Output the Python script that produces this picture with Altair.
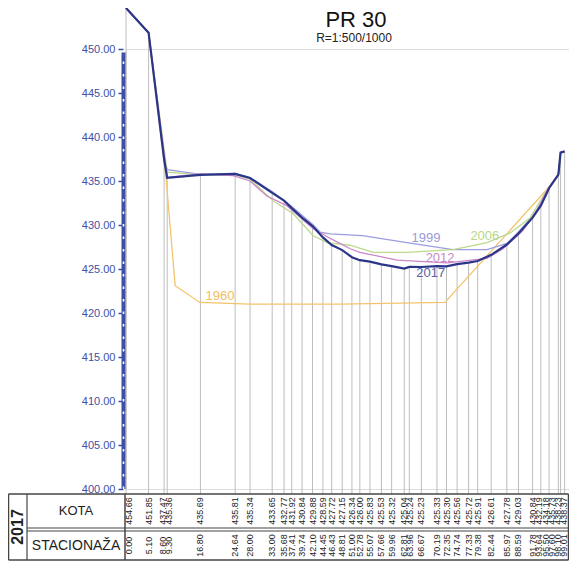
import altair as alt
import pandas as pd

# ---- 2017 survey (table values) ----
stations = [0.00, 5.10, 8.60, 9.30, 16.80, 24.64, 28.00, 33.00, 35.68, 37.41,
            39.74, 42.10, 44.45, 46.43, 48.81, 51.00, 52.78, 55.07, 57.66, 59.96,
            62.81, 63.96, 66.67, 70.19, 72.35, 74.74, 77.33, 79.38, 82.44, 85.97,
            88.59, 91.78, 93.64, 95.50, 97.60, 98.10, 99.01]
kota_2017 = [454.66, 451.85, 437.47, 435.36, 435.69, 435.81, 435.34, 433.65, 432.77, 431.92,
             430.84, 429.88, 428.59, 427.72, 427.15, 426.34, 426.00, 425.83, 425.53, 425.32,
             425.04, 425.24, 425.23, 425.33, 425.30, 425.56, 425.72, 425.91, 426.61, 427.78,
             429.03, 430.84, 432.19, 434.18, 435.73, 438.23, 438.37]

# ---- earlier surveys ----
st_1960 = [0.00, 5.10, 9.00, 11.10, 16.70, 28.00, 48.30, 72.00, 95.30, 97.60, 98.10, 99.01]
z_1960 = [454.66, 451.85, 435.60, 423.10, 421.20, 421.00, 421.00, 421.20, 434.20, 435.73, 438.23, 438.37]

st_1999 = [0.00, 5.10, 8.60, 9.30, 16.80, 24.64, 28.00, 33.00, 37.41, 42.10, 43.80, 46.00,
           53.40, 63.40, 73.80, 81.50, 86.00, 88.59, 91.78, 93.64, 95.50, 97.60, 98.10, 99.01]
z_1999 = [454.66, 451.85, 437.40, 436.30, 435.75, 435.85, 435.40, 433.80, 432.10, 430.10, 429.20, 429.00,
          428.80, 428.00, 427.20, 427.20, 427.90, 429.20, 431.00, 432.40, 434.25, 435.73, 438.23, 438.37]

st_2006 = [0.00, 5.10, 9.30, 16.80, 24.64, 28.00, 33.20, 37.70, 42.20, 45.40, 50.60, 55.80,
           63.40, 73.80, 81.50, 86.70, 91.20, 95.30, 97.60, 98.10, 99.01]
z_2006 = [454.66, 451.85, 436.00, 435.70, 435.70, 435.20, 432.75, 431.30, 428.80, 428.00, 427.70, 426.90,
          426.90, 427.20, 428.00, 429.10, 430.80, 434.20, 435.73, 438.23, 438.37]

st_2012 = [0.00, 5.10, 9.30, 16.70, 24.20, 28.00, 31.80, 36.30, 42.20, 46.00, 50.60, 52.80,
           61.20, 72.50, 81.50, 85.10, 89.50, 92.50, 95.30, 97.60, 98.10, 99.01]
z_2012 = [454.66, 451.85, 435.40, 435.80, 435.60, 435.00, 433.30, 432.20, 429.60, 428.50, 427.30, 426.90,
          426.00, 425.70, 426.20, 427.30, 429.30, 431.40, 434.20, 435.73, 438.23, 438.37]

years = ["1960", "1999", "2006", "2012", "2017"]
line_colors = ["#f3c46e", "#9c9de0", "#bcd98c", "#cc86cc", "#2b3688"]
label_colors = ["#f0c060", "#9a9ad8", "#b8d888", "#c88ac8", "#5a62a6"]
label_st = [21.2, 67.7, 81.0, 70.9, 68.8]
label_z = [421.9, 428.5, 428.8, 426.3, 424.6]

# ---- layout ----
W, H = 443, 440
xs = alt.Scale(domain=[0, 100], nice=False, zero=False)
ys = alt.Scale(domain=[400, 450], nice=False, zero=False)
AX_BLUE = "#3d4fa6"

series = {"1960": (st_1960, z_1960), "1999": (st_1999, z_1999), "2006": (st_2006, z_2006),
          "2012": (st_2012, z_2012), "2017": (stations, kota_2017)}


def spread(xv, gap, lo, hi):
    pos = list(xv)
    for _ in range(2000):
        moved = False
        for i in range(len(pos) - 1):
            d = pos[i + 1] - pos[i]
            if d < gap - 1e-6:
                s = (gap - d) / 2
                pos[i] -= s
                pos[i + 1] += s
                moved = True
        pos = [min(max(p, lo), hi) for p in pos]
        if not moved:
            break
    return pos


df17 = pd.DataFrame({"st": stations, "z": kota_2017,
                     "lx": spread(stations, 1.4, 0.6, 98.9),
                     "kt": [f"{v:.2f}" for v in kota_2017],
                     "stt": [f"{v:.2f}" for v in stations]})

one = alt.Data(values=[{}])

layers = []

# vertical station lines
layers.append(alt.Chart(df17).mark_rule(color="#b5b5b5", strokeWidth=0.9, clip=False).encode(
    x=alt.X("st:Q", scale=xs, axis=None),
    y=alt.Y("z:Q", scale=ys, axis=alt.Axis(values=list(range(400, 451, 5)), format=".2f",
                                           labelColor=AX_BLUE, labelFontSize=11, labelFont="Liberation Sans",
                                           tickColor=AX_BLUE, tickSize=5, tickWidth=1.5, domain=False,
                                           grid=False, title=None, offset=3, labelPadding=3)),
    y2=alt.value(445)))

# dashed axis bar
layers.append(alt.Chart(one).mark_rule(color=AX_BLUE, strokeWidth=4, clip=False).encode(
    x=alt.value(-2.5), y=alt.datum(400), y2=alt.datum(449.6)))
layers.append(alt.Chart(one).mark_rule(color="white", strokeWidth=1.6, strokeDash=[2.5, 10], clip=False).encode(
    x=alt.value(-2.5), y=alt.datum(400), y2=alt.datum(449.6)))

# survey lines
for yr, col in zip(years, line_colors):
    st, z = series[yr]
    d = pd.DataFrame({"st": st, "z": z})
    layers.append(alt.Chart(d).mark_line(color=col, strokeWidth=2.2 if yr == "2017" else 1.3,
                                         clip=False).encode(
        x=alt.X("st:Q", scale=xs, axis=None), y=alt.Y("z:Q", scale=ys), order="st:Q"))

# series labels
lab = pd.DataFrame({"year": years, "st": label_st, "z": label_z})
layers.append(alt.Chart(lab).mark_text(fontSize=13, font="Liberation Sans").encode(
    x=alt.X("st:Q", scale=xs, axis=None), y=alt.Y("z:Q", scale=ys), text="year:N",
    color=alt.Color("year:N", scale=alt.Scale(domain=years, range=label_colors), legend=None)))

# title
layers.append(alt.Chart(one).mark_text(text="PR 30", fontSize=22, font="Liberation Sans", color="#111").encode(
    x=alt.value(230), y=alt.value(-29)))
layers.append(alt.Chart(one).mark_text(text="R=1:500/1000", fontSize=12, font="Liberation Sans", color="#222").encode(
    x=alt.value(228), y=alt.value(-11)))

# table frame
TL, TR = -117.5, 442.5
TT, TM1, TM2, TB = 445, 479, 482, 511
lc = "#444"
for (x1, x2, yv, w) in [(TL, TR, TT, 1.5), (-99, TR, TM1, 1.2), (-99, TR, TM2, 1.2), (TL, TR, TB, 1.5)]:
    layers.append(alt.Chart(one).mark_rule(color=lc, strokeWidth=w, clip=False).encode(
        x=alt.value(x1), x2=alt.value(x2), y=alt.value(yv)))
for (xv, w) in [(TL, 1.5), (-99, 1.2), (-1, 1.5), (TR, 1.5)]:
    layers.append(alt.Chart(one).mark_rule(color=lc, strokeWidth=w, clip=False).encode(
        x=alt.value(xv), y=alt.value(TT), y2=alt.value(TB)))

layers.append(alt.Chart(one).mark_text(text="2017", fontSize=16, fontWeight="bold", angle=270,
                                       font="Liberation Sans", color="#222").encode(
    x=alt.value(-108), y=alt.value(478)))
layers.append(alt.Chart(one).mark_text(text="KOTA", fontSize=13, font="Liberation Sans", color="#222").encode(
    x=alt.value(-50), y=alt.value(462)))
layers.append(alt.Chart(one).mark_text(text="STACIONAŽA", fontSize=14, font="Liberation Sans", color="#222").encode(
    x=alt.value(-50), y=alt.value(497)))

# table numbers
layers.append(alt.Chart(df17).mark_text(angle=270, fontSize=9, font="Liberation Sans", color="#222").encode(
    x=alt.X("lx:Q", scale=xs, axis=None), y=alt.value(462), text="kt:N"))
layers.append(alt.Chart(df17).mark_text(angle=270, fontSize=9, font="Liberation Sans", color="#222").encode(
    x=alt.X("lx:Q", scale=xs, axis=None), y=alt.value(496.5), text="stt:N"))

chart = alt.layer(*layers).properties(
    width=W, height=H,
    autosize=alt.AutoSizeParams(type="none"),
    padding={"left": 118, "top": 41, "right": 0, "bottom": 72},
).configure_view(stroke=None).configure(background="white")

chart.save("out.html", embed_options={"renderer": "svg", "actions": False})
